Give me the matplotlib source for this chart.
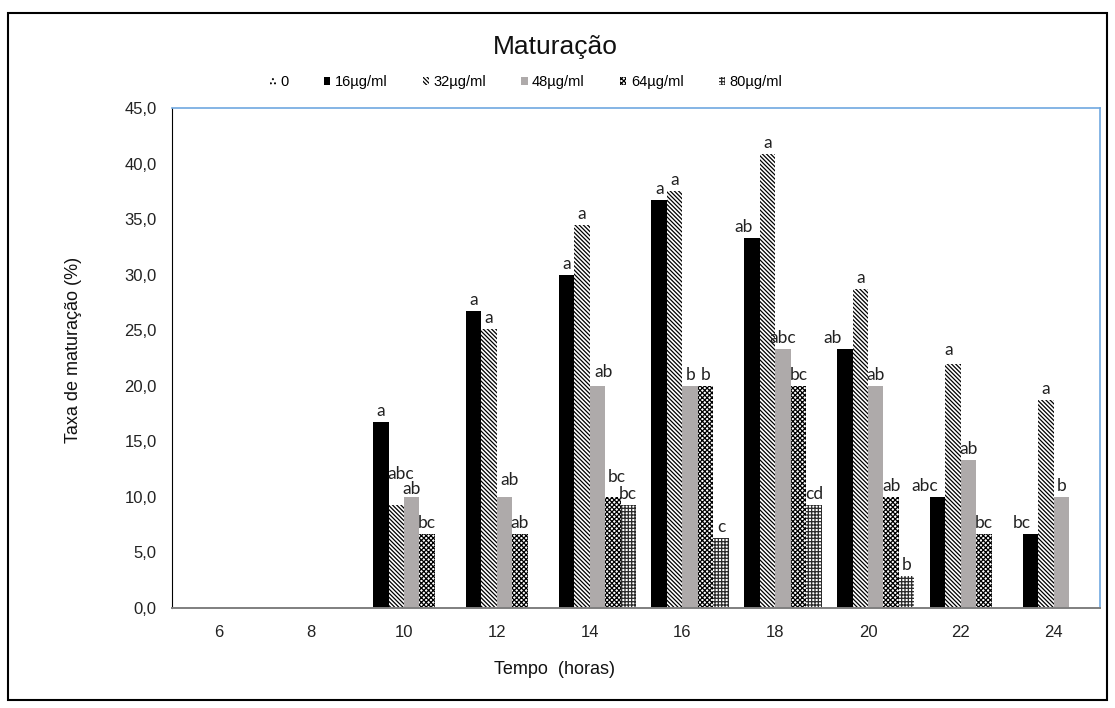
import matplotlib
matplotlib.use('Agg')
import matplotlib.pyplot as plt
from matplotlib.patches import Rectangle
from matplotlib.ticker import FuncFormatter

# dados
horas = ['6', '8', '10', '12', '14', '16', '18', '20', '22', '24']
series = ['0', '16µg/ml', '32µg/ml', '48µg/ml', '64µg/ml', '80µg/ml']

v0 = [0, 0, 0, 0, 0, 0, 0, 0, 0, 0]
v16 = [0, 0, 16.7, 26.7, 30.0, 36.7, 33.3, 23.3, 10.0, 6.7]
v32 = [0, 0, 9.3, 25.1, 34.5, 37.5, 40.9, 28.7, 22.0, 18.7]
v48 = [0, 0, 10.0, 10.0, 20.0, 20.0, 23.3, 20.0, 13.3, 10.0]
v64 = [0, 0, 6.7, 6.7, 10.0, 20.0, 20.0, 10.0, 6.7, 0]
v80 = [0, 0, 0, 0, 9.3, 6.3, 9.3, 2.9, 0, 0]

l0 = ['', '', '', '', '', '', '', '', '', '']
l16 = ['', '', 'a', 'a', 'a', 'a', 'ab', 'ab', 'abc', 'bc']
l32 = ['', '', 'abc', 'a', 'a', 'a', 'a', 'a', 'a', 'a']
l48 = ['', '', 'ab', 'ab', 'ab', 'b', 'abc', 'ab', 'ab', 'b']
l64 = ['', '', 'bc', 'ab', 'bc', 'b', 'bc', 'ab', 'bc', '']
l80 = ['', '', '', '', 'bc', 'c', 'cd', 'b', '', '']

valores = [v0, v16, v32, v48, v64, v80]
letras = [l0, l16, l32, l48, l64, l80]

# estilos (face, cor da hachura, hachura)
estilos = [
    dict(facecolor='white', edgecolor='black', hatch='....'),
    dict(facecolor='black', edgecolor='black', hatch=None),
    dict(facecolor='white', edgecolor='black', hatch='\\' * 8),
    dict(facecolor='#aeaaaa', edgecolor='#aeaaaa', hatch=None),
    dict(facecolor='white', edgecolor='black', hatch='x' * 7),
    dict(facecolor='white', edgecolor='#2a2a2a', hatch='+' * 5),
]

# deslocamentos manuais dos rótulos (px)
ajustes = {
    (2, 2): (4, 20), (2, 3): (0, -3), (3, 3): (5, 6), (4, 3): (6, 3),
    (4, 4): (4, 9), (6, 1): (-8, 0), (7, 1): (-12, 0), (8, 1): (-13, 0),
    (9, 1): (-9, 0), (8, 2): (-4, 3),
}

plt.rcParams['font.family'] = ['Liberation Sans', 'DejaVu Sans']
plt.rcParams['hatch.linewidth'] = 0.9

fig = plt.figure(figsize=(11.15, 7.08), dpi=100)
ax = fig.add_axes([172 / 1115, 100 / 708, 928 / 1115, 500 / 708])

w = 1 / 6
x = list(range(len(horas)))
for j, (vals, st) in enumerate(zip(valores, estilos)):
    pos = [i + (j - 2.5) * w for i in x]
    ax.bar(pos, vals, width=w, align='center', linewidth=0,
           label=series[j], **st)
    for i, (p, v, t) in enumerate(zip(pos, vals, letras[j])):
        if not t:
            continue
        dx, dy = ajustes.get((i, j), (0, 0))
        ax.annotate(t, (p, v), xytext=(dx, 6 + dy), textcoords='offset pixels',
                    ha='center', va='baseline', fontsize=12.5, family='Lato',
                    color='#222222')

ax.set_xlim(-0.5, len(horas) - 0.5)
ax.set_ylim(0, 45)
ax.set_yticks([0, 5, 10, 15, 20, 25, 30, 35, 40, 45])
ax.yaxis.set_major_formatter(FuncFormatter(lambda v, p: f'{v:.1f}'.replace('.', ',')))
ax.set_xticks(x)
ax.set_xticklabels(horas)
ax.tick_params(axis='both', length=0, labelsize=12, colors='#222222')
ax.tick_params(axis='x', pad=12)
ax.tick_params(axis='y', pad=11)

ax.spines['left'].set_color('black')
ax.spines['left'].set_linewidth(0.8)
ax.spines['bottom'].set_color('#7f7f7f')
ax.spines['bottom'].set_linewidth(1.4)
for s in ['top', 'right']:
    ax.spines[s].set_color('#70a8e0')
    ax.spines[s].set_linewidth(1.2)

fig.text(555 / 1115, 1 - 47 / 708, 'Maturação', ha='center', va='center',
         fontsize=19, color='#111111')
fig.text(555 / 1115, 1 - 670 / 708, 'Tempo  (horas)', ha='center', va='center',
         fontsize=13, color='#111111')
fig.text(74 / 1115, 1 - 350 / 708, 'Taxa de maturação (%)', ha='center',
         va='center', rotation=90, fontsize=13, color='#111111')

fig.legend(loc='center', bbox_to_anchor=(526 / 1115, 1 - 82 / 708), ncol=6,
           frameon=False, fontsize=10.5, handlelength=0.45, handleheight=0.45,
           handletextpad=0.3, columnspacing=2.4, borderpad=0)

fig.patches.append(Rectangle((8 / 1115, 1 - 700 / 708), 1099 / 1115, 687 / 708,
                             transform=fig.transFigure, fill=False,
                             edgecolor='black', linewidth=1.5))

fig.savefig('out.png', dpi=100)
